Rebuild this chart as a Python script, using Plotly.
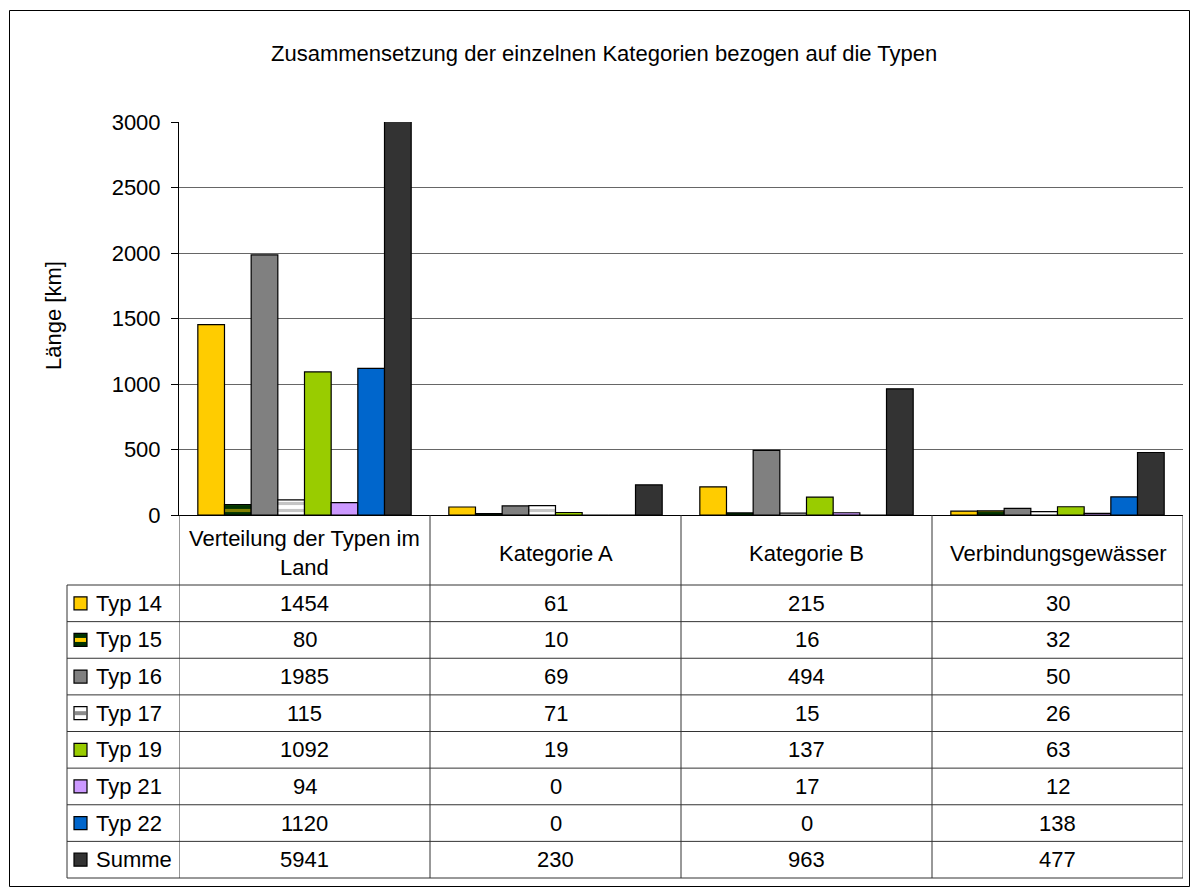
import textwrap
import plotly.graph_objects as go

# ---------------- data ----------------
categories = ["Verteilung der Typen im Land", "Kategorie A", "Kategorie B", "Verbindungsgewässer"]
series_names = ["Typ 14", "Typ 15", "Typ 16", "Typ 17", "Typ 19", "Typ 21", "Typ 22", "Summe"]
typ14 = [1454, 61, 215, 30]
typ15 = [80, 10, 16, 32]
typ16 = [1985, 69, 494, 50]
typ17 = [115, 71, 15, 26]
typ19 = [1092, 19, 137, 63]
typ21 = [94, 0, 17, 12]
typ22 = [1120, 0, 0, 138]
summe = [5941, 230, 963, 477]
series_values = [typ14, typ15, typ16, typ17, typ19, typ21, typ22, summe]
y_ticks = [0, 500, 1000, 1500, 2000, 2500, 3000]
title = "Zusammensetzung der einzelnen Kategorien bezogen auf die Typen"
y_title = "Länge [km]"

# ---------------- styles ----------------
colors = ["#FFCC00", "#003300", "#808080", "#FFFFFF", "#99CC00", "#CC99FF", "#0066CC", "#333333"]
patterns = [None, dict(shape="-", fgcolor="#FFCC00", bgcolor="#003300", size=7, solidity=0.45),
            None, dict(shape="-", fgcolor="#8C8C8C", bgcolor="#FFFFFF", size=7, solidity=0.45),
            None, None, None, None]
FONT = "Liberation Sans, Arial, sans-serif"
FS = 22

W, H = 1192, 888
L, R, T, B = 179, 1183, 122, 515  # plot area in pixels


def px(xp):
    return (xp - L) / (R - L)


def py(yp):
    return (B - yp) / (B - T)


fig = go.Figure()
xpos = list(range(len(categories)))
for i, name in enumerate(series_names):
    marker = dict(color=colors[i], line=dict(color="#000000", width=1.2))
    if patterns[i]:
        marker["pattern"] = patterns[i]
    fig.add_trace(go.Bar(x=xpos, y=series_values[i], name=name, marker=marker,
                         showlegend=False, hoverinfo="y+name"))

shapes = []
annotations = []
line_col = "#333333"

# table geometry
header_bottom = 585
row_h = (878 - 585) / len(series_names)
table_left = 67
table_bottom = header_bottom + row_h * len(series_names)

# vertical column lines (category boundaries)
for k in range(len(categories) + 1):
    shapes.append(dict(type="line", xref="x", yref="paper", x0=k - 0.5, x1=k - 0.5,
                       y0=py(B), y1=py(table_bottom), line=dict(color=line_col, width=1)))
# left border of label column
shapes.append(dict(type="line", xref="paper", yref="paper", x0=px(table_left), x1=px(table_left),
                   y0=py(header_bottom), y1=py(table_bottom), line=dict(color=line_col, width=1)))
# horizontal row lines
for r in range(len(series_names) + 1):
    yy = header_bottom + r * row_h
    shapes.append(dict(type="line", xref="paper", yref="paper", x0=px(table_left), x1=1,
                       y0=py(yy), y1=py(yy), line=dict(color=line_col, width=1)))

# header texts
for k, cat in enumerate(categories):
    annotations.append(dict(x=k, xref="x", y=py((B + header_bottom) / 2 + 3), yref="paper",
                            text="<br>".join(textwrap.wrap(cat, 23)), showarrow=False,
                            font=dict(family=FONT, size=FS, color="#000000"),
                            xanchor="center", yanchor="middle", align="center"))

# rows: legend key + label + values
for r, name in enumerate(series_names):
    yc = header_bottom + (r + 0.5) * row_h
    shapes.append(dict(type="rect", xref="paper", yref="paper", x0=px(74), x1=px(87),
                       y0=py(yc + 6.5), y1=py(yc - 6.5), fillcolor=colors[r],
                       line=dict(color="#000000", width=1.2)))
    if patterns[r]:
        shapes.append(dict(type="rect", xref="paper", yref="paper", x0=px(75), x1=px(86),
                           y0=py(yc + 2), y1=py(yc - 2), fillcolor=patterns[r]["fgcolor"],
                           line=dict(width=0)))
    annotations.append(dict(x=px(94), xref="paper", y=py(yc), yref="paper", text=name,
                            showarrow=False, xanchor="left", yanchor="middle",
                            font=dict(family=FONT, size=FS, color="#000000")))
    for k in range(len(categories)):
        annotations.append(dict(x=k, xref="x", y=py(yc), yref="paper",
                                text=str(series_values[r][k]), showarrow=False,
                                xanchor="center", yanchor="middle",
                                font=dict(family=FONT, size=FS, color="#000000")))

# outer border
shapes.append(dict(type="rect", xref="paper", yref="paper", x0=px(9.5), x1=px(1189.5),
                   y0=py(886.5), y1=py(10.5), line=dict(color="#000000", width=1),
                   fillcolor="rgba(0,0,0,0)", layer="below"))

# title and y-axis title
annotations.append(dict(x=px(604), xref="paper", y=py(53), yref="paper", text=title,
                        showarrow=False, xanchor="center", yanchor="middle",
                        font=dict(family=FONT, size=FS, color="#000000")))
annotations.append(dict(x=px(53), xref="paper", y=py(316), yref="paper", text=y_title,
                        showarrow=False, xanchor="center", yanchor="middle", textangle=-90,
                        font=dict(family=FONT, size=FS, color="#000000")))

fig.update_layout(
    width=W, height=H,
    margin=dict(l=L, r=W - R, t=T, b=H - B, pad=0),
    paper_bgcolor="#FFFFFF", plot_bgcolor="#FFFFFF",
    barmode="group", bargap=0.15, bargroupgap=0,
    shapes=shapes, annotations=annotations,
    font=dict(family=FONT, size=FS, color="#000000"),
)
fig.update_xaxes(range=[-0.5, len(categories) - 0.5], showticklabels=False, showgrid=False,
                 zeroline=False, showline=True, linecolor="#000000", linewidth=1, ticks="",
                 fixedrange=True)
fig.update_yaxes(range=[0, 3000], tickvals=y_ticks, ticks="outside", ticklen=7,
                 tickcolor="#000000", showline=True, linecolor="#000000", linewidth=1,
                 showgrid=True, gridcolor="#666666", gridwidth=1, zeroline=False,
                 ticklabelstandoff=6, tickfont=dict(family=FONT, size=FS, color="#000000"),
                 fixedrange=True)

fig.write_html("out.html", config={"displayModeBar": False},
               post_script="document.body.style.margin='0';document.body.style.overflow='hidden';")
